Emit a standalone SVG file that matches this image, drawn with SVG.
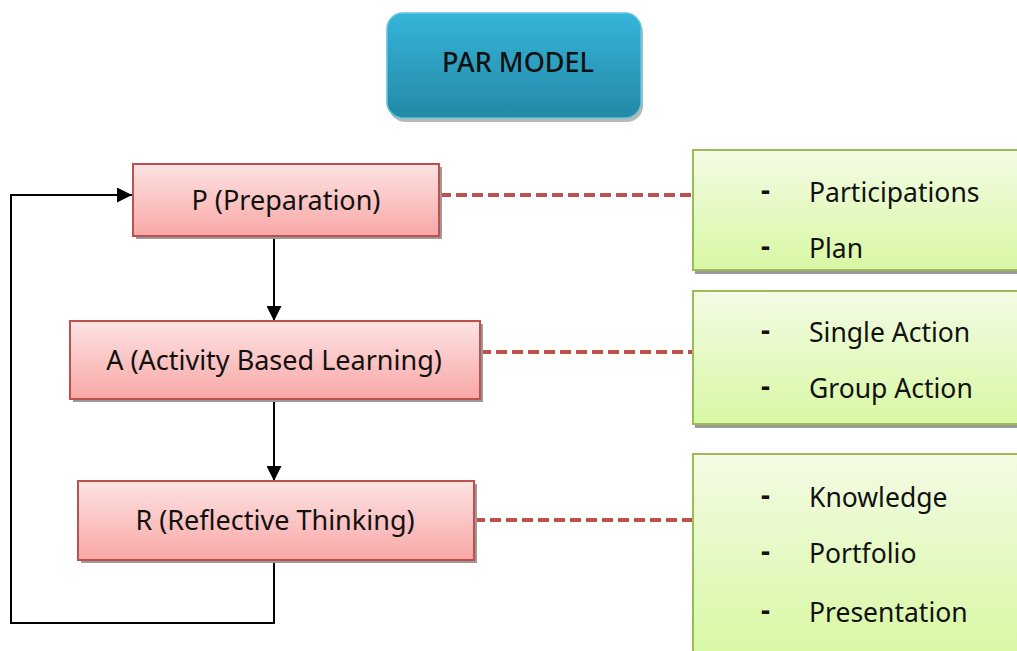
<svg xmlns="http://www.w3.org/2000/svg" width="1017" height="651" viewBox="0 0 1017 651">
<style>
text{font-family:"Noto Sans","Open Sans","DejaVu Sans",sans-serif;fill:#111}
.nt{font-size:27px;text-anchor:middle}
.it{font-size:26.5px}
.hy{font-size:28px;font-weight:bold}
.red{fill:url(#gRed);stroke:#c0504d;stroke-width:2}
.grn{fill:url(#gGrn);stroke:#9bbb59;stroke-width:2}
.sh{fill:#9a9a9a}
.dash{stroke:#c0504d;stroke-width:4;stroke-dasharray:11 5;fill:none}
.flow{stroke:#000;stroke-width:2;fill:none}
</style>
<defs>
<linearGradient id="gRed" x1="0" y1="0" x2="0" y2="1"><stop offset="0" stop-color="#fde3e3"/><stop offset="1" stop-color="#f8a7a6"/></linearGradient>
<linearGradient id="gGrn" x1="0" y1="0" x2="0" y2="1"><stop offset="0" stop-color="#f3fbe4"/><stop offset="1" stop-color="#d8f8a4"/></linearGradient>
<linearGradient id="gTeal" x1="0" y1="0" x2="0" y2="1"><stop offset="0" stop-color="#36b4d9"/><stop offset="1" stop-color="#2389a7"/></linearGradient>
<marker id="arr" markerWidth="15" markerHeight="15" refX="15" refY="7.5" orient="auto" markerUnits="userSpaceOnUse"><path d="M0,0 L15,7.5 L0,15 Z" fill="#000"/></marker>
</defs>

<g id="title">
<rect x="389" y="16" width="254" height="106" rx="16" fill="#8a8a8a" opacity="0.6"/>
<rect x="387" y="13" width="254" height="105" rx="16" fill="url(#gTeal)" stroke="#5fc3de" stroke-width="1.5"/>
<text x="518" y="72" font-size="27" font-weight="500" text-anchor="middle">PAR MODEL</text>
</g>

<g id="connectors">
<line class="flow" x1="274" y1="236" x2="274" y2="321" marker-end="url(#arr)"/>
<line class="flow" x1="274" y1="399" x2="274" y2="481" marker-end="url(#arr)"/>
<polyline class="flow" points="274,560 274,623 11,623 11,195 132,195" marker-end="url(#arr)"/>
<line class="dash" x1="440" y1="195" x2="692" y2="195"/>
<line class="dash" x1="480" y1="352" x2="692" y2="352"/>
<line class="dash" x1="474" y1="520" x2="692" y2="520"/>
</g>

<g id="nodeP">
<rect class="sh" x="136" y="167" width="306" height="72"/>
<rect class="red" x="133" y="164" width="306" height="72"/>
<text class="nt" x="286" y="210">P (Preparation)</text>
</g>
<g id="nodeA">
<rect class="sh" x="73" y="324" width="410" height="78"/>
<rect class="red" x="70" y="321" width="410" height="78"/>
<text class="nt" x="274" y="370">A (Activity Based Learning)</text>
</g>
<g id="nodeR">
<rect class="sh" x="81" y="484" width="396" height="79"/>
<rect class="red" x="78" y="481" width="396" height="79"/>
<text class="nt" x="275" y="530">R (Reflective Thinking)</text>
</g>

<g id="listP">
<rect class="sh" x="695" y="153" width="330" height="121"/>
<rect class="grn" x="693" y="150" width="330" height="120"/>
<text class="hy" x="761" y="200">-</text><text class="it" x="809" y="202">Participations</text>
<text class="hy" x="761" y="256">-</text><text class="it" x="809" y="258">Plan</text>
</g>
<g id="listA">
<rect class="sh" x="695" y="294" width="330" height="134"/>
<rect class="grn" x="693" y="291" width="330" height="133"/>
<text class="hy" x="761" y="340">-</text><text class="it" x="809" y="342">Single Action</text>
<text class="hy" x="761" y="396">-</text><text class="it" x="809" y="398">Group Action</text>
</g>
<g id="listR">
<rect class="sh" x="695" y="457" width="330" height="200"/>
<rect class="grn" x="693" y="454" width="330" height="200"/>
<text class="hy" x="761" y="505">-</text><text class="it" x="809" y="507">Knowledge</text>
<text class="hy" x="761" y="561">-</text><text class="it" x="809" y="563">Portfolio</text>
<text class="hy" x="761" y="620">-</text><text class="it" x="809" y="622">Presentation</text>
</g>
</svg>
